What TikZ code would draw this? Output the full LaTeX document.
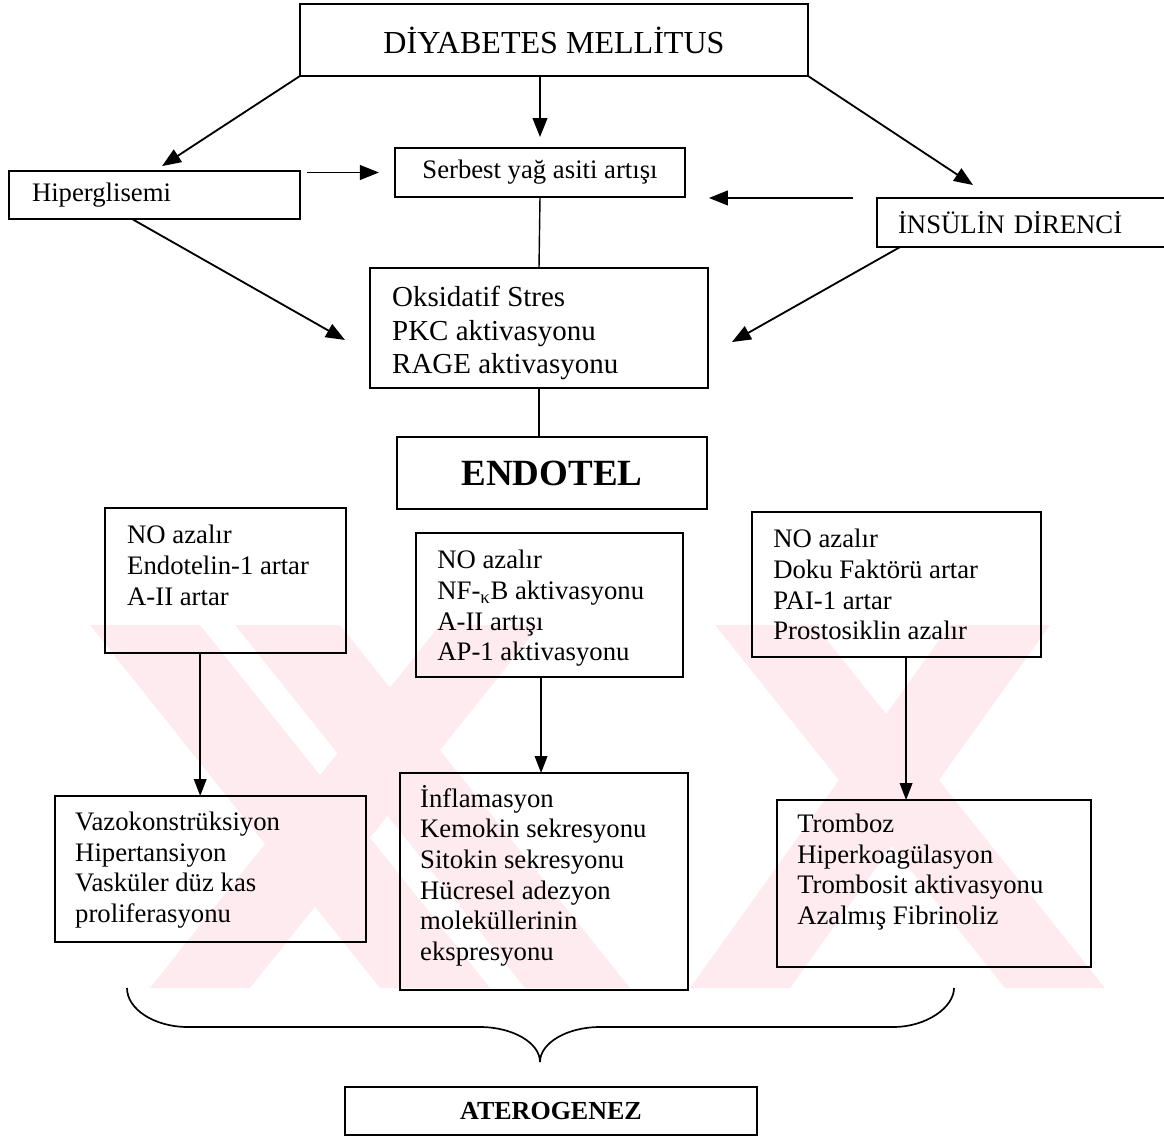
\documentclass[tikz,border=0pt]{standalone}
\usepackage{fontspec}
\setmainfont{Liberation Serif}
\usetikzlibrary{arrows.meta,positioning}
\definecolor{filigran}{RGB}{254,235,239}

\begin{document}
\begin{tikzpicture}[x=0.025cm, y=-0.025cm,
	box/.style={draw, line width=1.6pt, inner sep=0pt, outer sep=0pt},
	yazi/.style={anchor=north west, inner sep=0pt, align=left, font=\fontsize{19}{21.8}\selectfont},
	arr/.style={-{Triangle[length=13.5pt,width=10.5pt]}, line width=1.3pt},
	ince/.style={-{Triangle[length=12pt,width=9pt]}, line width=1pt}]

		\useasboundingbox (0,0) rectangle (1164,1138);

		\begin{scope}
		\clip (0,625) rectangle (1164,988);
		\fill[filigran] (90,625) -- (200,625) -- (490,988) -- (380,988) -- cycle;
		\fill[filigran] (235,625) -- (340,625) -- (630,988) -- (525,988) -- cycle;
		\fill[filigran] (440,625) -- (540,625) -- (250,988) -- (150,988) -- cycle;
		\fill[filigran] (950,625) -- (1050,625) -- (790,988) -- (690,988) -- cycle;
		\fill[filigran] (715,625) -- (815,625) -- (1105,988) -- (1005,988) -- cycle;
		\end{scope}

		\node[box, minimum width=361.3pt, minimum height=51.2pt, font=\fontsize{22.8}{26}\selectfont] (dm) at (554,40) {DİYABETES MELLİTUS};
		\node[box, minimum width=206.3pt, minimum height=34.9pt, font=\fontsize{19}{22}\selectfont] (serb) at (540,172.5) {Serbest yağ asiti artışı};
		\node[box, text width=174.2pt, inner xsep=16.4pt, minimum height=34.1pt, align=left, font=\fontsize{19}{22}\selectfont] (hyp) at (154.5,195) {Hiperglisemi};
		\node[box, text width=179.8pt, inner xsep=15pt, minimum height=34.9pt, align=left, font=\fontsize{19}{22}\selectfont] (ins) at (1024.5,222.5) {İNSÜLİN DİRENCİ};

		\node[box, minimum width=240.4pt, minimum height=85.4pt] (oks) at (539,328) {};
		\node[yazi, font=\fontsize{20.6}{23.8}\selectfont, below right=12.8pt and 15.6pt of oks.north west] (okst) {Oksidatif Stres\\PKC aktivasyonu\\RAGE aktivasyonu};

		\node[box, minimum width=220.5pt, minimum height=51.2pt, font=\bfseries\fontsize{26.3}{30}\selectfont] (endo) at (552,473) {ENDOTEL};

		\node[box, minimum width=171.4pt, minimum height=103.1pt] (l1) at (225.5,580.5) {};
		\node[yazi, below right=12pt and 15.6pt of l1.north west] (l1t) {NO azalır\\Endotelin-1 artar\\A-II artar};
		\node[box, minimum width=189.9pt, minimum height=102.4pt] (m1) at (549.5,605) {};
		\node[yazi, below right=12pt and 15pt of m1.north west] (m1t) {NO azalır\\NF-\textsubscript{κ}B aktivasyonu\\A-II artışı\\AP-1 aktivasyonu};
		\node[box, minimum width=205.6pt, minimum height=103.1pt] (r1) at (896.5,584.5) {};
		\node[yazi, below right=12pt and 15pt of r1.north west] (r1t) {NO azalır\\Doku Faktörü artar\\PAI-1 artar\\Prostosiklin azalır};

		\node[box, minimum width=221.2pt, minimum height=103.9pt] (l2) at (210.5,869) {};
		\node[yazi, below right=11.2pt and 14.2pt of l2.north west] (l2t) {Vazokonstrüksiyon\\Hipertansiyon\\Vasküler düz kas\\proliferasyonu};
		\node[box, minimum width=204.9pt, minimum height=154.4pt] (m2) at (544,881.5) {};
		\node[yazi, below right=8.5pt and 14.2pt of m2.north west] (m2t) {İnflamasyon\\Kemokin sekresyonu\\Sitokin sekresyonu\\Hücresel adezyon\\moleküllerinin\\ekspresyonu};
		\node[box, minimum width=223.3pt, minimum height=118.8pt] (r2) at (934,883.5) {};
		\node[yazi, below right=9.8pt and 14.2pt of r2.north west] (r2t) {Tromboz\\Hiperkoagülasyon\\Trombosit aktivasyonu\\Azalmış Fibrinoliz};

		\node[box, minimum width=293.1pt, minimum height=34.1pt, font=\bfseries\fontsize{18.5}{22}\selectfont] (ate) at (551,1111) {ATEROGENEZ};

		\draw[arr, shorten >=6.4pt] (dm.south west) -- (hyp.north);
		\draw[arr, shorten >=7.8pt] (serb.north |- dm.south) -- (serb.north);
		\draw[arr] (dm.south east) -- ([xshift=-36.6pt,yshift=9.2pt]ins.north);
		\draw[arr, shorten <=5pt, shorten >=11.4pt] (hyp.east |- serb.west) -- (serb.west);
		\draw[arr, shorten <=17pt, shorten >=17pt] (ins.north west) -- (serb.east |- ins.north west);
		\draw[line width=1pt] (serb.south) -- (oks.north);
		\draw[arr] ([xshift=-16pt]hyp.south) -- ([xshift=-17.8pt,yshift=-8.5pt]oks.west);
		\draw[arr] ([xshift=16.4pt]ins.south west) -- ([xshift=17pt,yshift=-10pt]oks.east);
		\draw[line width=1pt] (oks.south) -- (oks.south |- endo.north);

		\coordinate (la) at ([xshift=-18pt]l1.south);
		\coordinate (ma) at ([xshift=-6pt]m1.south);
		\coordinate (ra) at ([xshift=6.8pt]r1.south);
		\draw[ince] (la) -- (la |- l2.north);
		\draw[ince] (ma) -- (ma |- m2.north);
		\draw[ince] (ra) -- (ra |- r2.north);

		\draw[line width=1.2pt] (127,988) .. controls (127,1009) and (154,1027) .. (188,1027) -- (480,1027) .. controls (513,1027) and (540,1043) .. (540,1062) .. controls (540,1043) and (567,1027) .. (600,1027) -- (893,1027) .. controls (927,1027) and (954,1007) .. (954,988);
	\end{tikzpicture}
\end{document}
